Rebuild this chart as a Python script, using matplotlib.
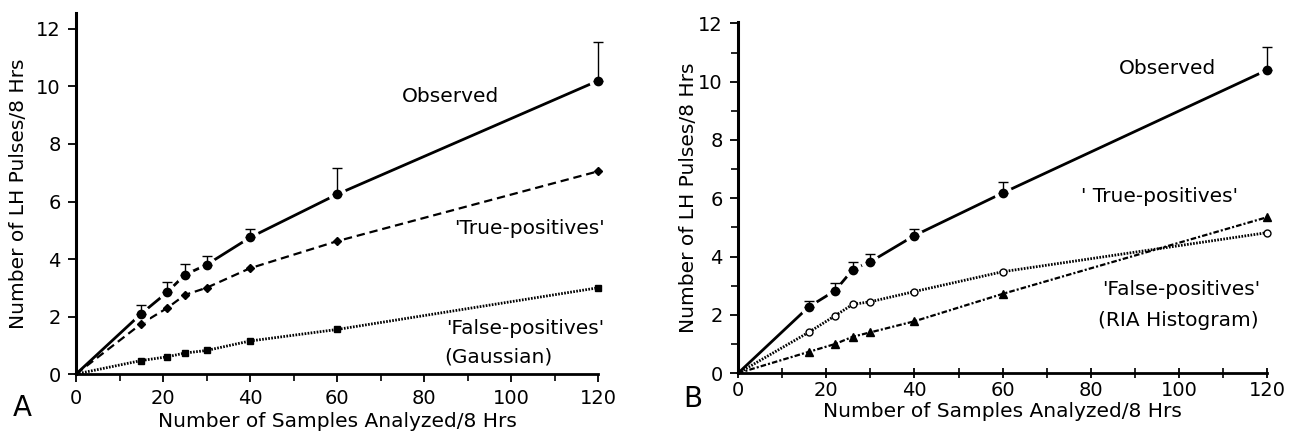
import matplotlib
matplotlib.use("Agg")
from matplotlib import pyplot as plt
import numpy as np

plt.rcParams["font.family"] = ["DejaVu Sans"]
plt.rcParams["lines.scale_dashes"] = False

# panel A data
xa = [15, 21, 25, 30, 40, 60, 120]
obs_a = [2.1, 2.85, 3.45, 3.8, 4.75, 6.25, 10.2]
obs_a_err = [0.3, 0.35, 0.37, 0.32, 0.28, 0.9, 1.35]
true_a = [1.75, 2.3, 2.75, 3.0, 3.68, 4.62, 7.05]
false_a = [0.47, 0.6, 0.73, 0.82, 1.15, 1.55, 3.0]

# panel B data
xb = [16, 22, 26, 30, 40, 60, 120]
obs_b = [2.27, 2.83, 3.55, 3.82, 4.72, 6.18, 10.4]
obs_b_err = [0.19, 0.27, 0.25, 0.26, 0.23, 0.39, 0.8]
true_b = [1.4, 1.97, 2.36, 2.45, 2.8, 3.48, 4.82]
false_b = [0.73, 1.0, 1.25, 1.4, 1.78, 2.72, 5.35]

x_ticks = [0, 20, 40, 60, 80, 100, 120]
y_ticks = [0, 2, 4, 6, 8, 10, 12]

fs = 14.5

fig = plt.figure(figsize=(12.89, 4.38), dpi=100)
axA = fig.add_axes([0.059, 0.146, 0.405, 0.824])
axB = fig.add_axes([0.5726, 0.148, 0.4104, 0.802])


def series(ax, x, y, marker, dashes, ms, mfc="black", lw=1.6):
    # lines start from the origin, markers only at the data points
    xs = [0] + list(x)
    ys = [0] + list(y)
    ln, = ax.plot(xs, ys, color="black", lw=lw, clip_on=False, zorder=2)
    if dashes is not None:
        ln.set_dashes(dashes)
    ax.plot(x, y, ls="none", marker=marker, ms=ms, mfc=mfc, mec="black",
            mew=1.0, clip_on=False, zorder=5)


def observed(ax, x, y, err):
    xs = [0] + list(x)
    ys = [0] + list(y)
    ax.plot(xs, ys, color="black", lw=2.0, clip_on=False, zorder=2)
    # white halo gives the gaps in the line around each point
    ax.plot(x, y, ls="none", marker="o", ms=12, mfc="white", mec="white",
            clip_on=False, zorder=3)
    ax.errorbar(x, y, yerr=[np.zeros(len(err)), err], fmt="o", color="black",
                ms=6, elinewidth=1.0, capsize=3.5, capthick=1.0,
                clip_on=False, zorder=6)


def style(ax, ytop, yminor):
    ax.set_xlim(0, 120)
    ax.set_ylim(0, ytop)
    ax.spines["top"].set_visible(False)
    ax.spines["right"].set_visible(False)
    ax.spines["left"].set_linewidth(2.2)
    ax.spines["bottom"].set_linewidth(2.0)
    ax.set_xticks(x_ticks)
    ax.set_xticks(range(10, 120, 20), minor=True)
    ax.set_yticks(y_ticks)
    if yminor:
        ax.set_yticks(range(1, 12, 2), minor=True)
    ax.tick_params(axis="both", which="major", length=6, width=1.3,
                   labelsize=14, pad=5)
    ax.tick_params(axis="both", which="minor", length=5, width=1.2)


# ---- panel A
style(axA, 12.55, False)
series(axA, xa, false_a, "s", (1.2, 1.0), 4.5, lw=2.0)
series(axA, xa, true_a, "D", (6, 3.5), 4.5)
observed(axA, xa, obs_a, obs_a_err)
axA.tick_params(axis="x", which="both", direction="out")
axA.set_xlabel("Number of Samples Analyzed/8 Hrs", fontsize=fs, labelpad=3)
axA.set_ylabel("Number of LH Pulses/8 Hrs", fontsize=fs, labelpad=6)
axA.text(86, 9.65, "Observed", fontsize=fs, ha="center", va="center")
axA.text(121.5, 5.05, "'True-positives'", fontsize=fs, ha="right", va="center")
axA.text(121.5, 1.6, "'False-positives'", fontsize=fs, ha="right", va="center")
axA.text(97, 0.6, "(Gaussian)", fontsize=fs, ha="center", va="center")

# ---- panel B
style(axB, 12.05, True)
series(axB, xb, true_b, "o", (1.2, 1.0), 5, mfc="white", lw=2.0)
series(axB, xb, false_b, "^", (4, 1.5, 1.5, 1.5), 5.5)
observed(axB, xb, obs_b, obs_b_err)
axB.tick_params(axis="x", which="both", direction="inout", length=7, pad=2)
axB.set_xlabel("Number of Samples Analyzed/8 Hrs", fontsize=fs, labelpad=1.5)
axB.set_ylabel("Number of LH Pulses/8 Hrs", fontsize=fs, labelpad=0)
axB.text(97.5, 10.45, "Observed", fontsize=fs, ha="center", va="center")
axB.text(95.5, 6.07, "' True-positives'", fontsize=fs, ha="center", va="center")
axB.text(100.5, 2.86, "'False-positives'", fontsize=fs, ha="center", va="center")
axB.text(99.8, 1.81, "(RIA Histogram)", fontsize=fs, ha="center", va="center")

fig.text(22 / 1289, 1 - 408 / 438, "A", fontsize=20, ha="center", va="center")
fig.text(693 / 1289, 1 - 399 / 438, "B", fontsize=20, ha="center", va="center")

fig.savefig("out.png", dpi=100)
